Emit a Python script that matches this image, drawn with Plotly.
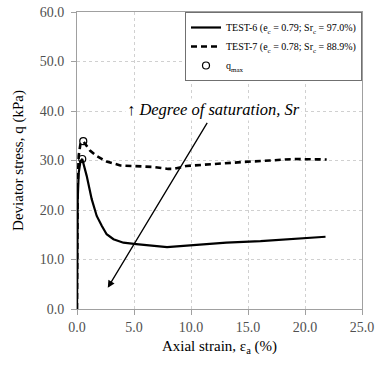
import plotly.graph_objects as go

# TEST-6 (solid)
strain6 = [0, 0.02, 0.06, 0.15, 0.3, 0.46, 0.85, 1.29, 1.73, 2.17, 2.6, 3.2, 4.07, 5.2, 6.7, 7.9,
           10.2, 13.1, 16.1, 19.0, 21.8]
stress6 = [0, 12, 22, 27.5, 29.8, 30.3, 26.9, 22.2, 18.8, 16.8, 15.1, 14.1, 13.4, 13.1, 12.7, 12.5,
           12.9, 13.4, 13.7, 14.2, 14.6]

# TEST-7 (dashed)
strain7 = [0, 0.02, 0.06, 0.15, 0.3, 0.55, 1.14, 1.73, 2.6, 3.8, 5.2, 6.7, 8.0, 8.45, 9.6, 11.7,
           14.6, 16.9, 19.0, 21.9]
stress7 = [0, 14, 25, 31, 33.3, 33.9, 32.0, 30.9, 29.8, 29.0, 28.8, 28.7, 28.3, 28.3, 28.9, 29.3,
           29.7, 30.0, 30.3, 30.2]

# q_max points
qmax_strain = [0.46, 0.55]
qmax_stress = [30.3, 33.9]

# arrow (tail -> head) and annotation
arrow_tail = (11.5, 37.9)
arrow_head = (2.7, 4.3)
label_pos = (12.0, 40.3)

xticks = [0, 5, 10, 15, 20, 25]
yticks = [0, 10, 20, 30, 40, 50, 60]

FONT = "Times New Roman"

fig = go.Figure()
fig.add_trace(go.Scatter(x=strain6, y=stress6, mode="lines",
                         line=dict(color="black", width=2.2),
                         name="TEST-6 (e<sub>c</sub> = 0.79; Sr<sub>c</sub> = 97.0%)"))
fig.add_trace(go.Scatter(x=strain7, y=stress7, mode="lines",
                         line=dict(color="black", width=2.6, dash="6px,4px"),
                         name="TEST-7 (e<sub>c</sub> = 0.78; Sr<sub>c</sub> = 88.9%)"))
fig.add_trace(go.Scatter(x=qmax_strain, y=qmax_stress, mode="markers",
                         marker=dict(symbol="circle-open", size=7, color="black",
                                     line=dict(width=1.2)),
                         name="q<sub>max</sub>"))

fig.add_annotation(x=arrow_head[0], y=arrow_head[1], ax=arrow_tail[0], ay=arrow_tail[1],
                   xref="x", yref="y", axref="x", ayref="y",
                   text="", showarrow=True, arrowhead=2, arrowsize=1.1,
                   arrowwidth=1.3, arrowcolor="black")
fig.add_annotation(x=label_pos[0], y=label_pos[1], xref="x", yref="y",
                   text="<b>↑</b> <i>Degree of saturation, Sr</i>", showarrow=False,
                   font=dict(size=16.5, color="black"),
                   bgcolor="white")

axis_common = dict(showline=True, linecolor="#a0a0a0", linewidth=1, mirror=True,
                   showgrid=True, gridcolor="#d0d0d0", griddash="dot", gridwidth=1,
                   ticks="outside", ticklen=5, tickcolor="#a0a0a0",
                   tickformat=".1f", zeroline=False, automargin=False,
                   tickfont=dict(size=14, color="#505050"))

fig.update_xaxes(range=[0, 25], tickvals=xticks,
                 title=dict(text="Axial strain, ε<sub>a</sub> (%)",
                            font=dict(size=15, color="black"), standoff=6),
                 **axis_common)
fig.update_yaxes(range=[0, 60], tickvals=yticks, ticklabelstandoff=4,
                 title=dict(text="Deviator stress, q (kPa)",
                            font=dict(size=15, color="black"), standoff=12),
                 **axis_common)

fig.update_layout(
    width=377, height=366,
    margin=dict(l=77, r=15, t=12, b=57),
    plot_bgcolor="white", paper_bgcolor="white",
    font=dict(family=FONT, color="black"),
    legend=dict(x=1, xanchor="right", y=1, yanchor="top",
                bgcolor="white", bordercolor="#707070", borderwidth=1,
                font=dict(size=10, color="black"),
                tracegroupgap=0, itemwidth=30),
    showlegend=True,
)

fig.write_html("out.html", config={"displayModeBar": False},
               post_script="document.body.style.margin='0';")
